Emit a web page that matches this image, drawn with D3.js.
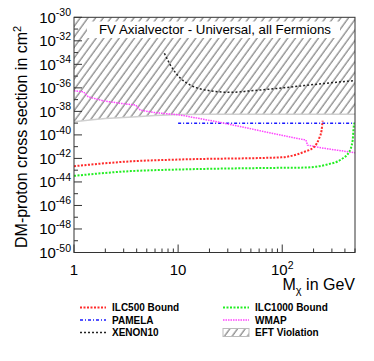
<!DOCTYPE html>
<html><head><meta charset="utf-8">
<script src="https://cdn.jsdelivr.net/npm/d3@7"></script>
<style>
body{margin:0;background:#fff}
svg{display:block}
text{font-family:"Liberation Sans",Arial,Helvetica,sans-serif;fill:#000}
</style>
</head><body>
<svg id="c" width="374" height="361"></svg>
<script>
// ---- data (mass in GeV, log10 of cross section in cm^2) ----
const massDomain = [1, 500];
const expDomain = [-50, -30];
const yLabelExps = [-30,-32,-34,-36,-38,-40,-42,-44,-46,-48,-50];
const xLabelTicks = [1, 10, 100];
const eftBoundary = [[1,-38.88],[1.5,-38.72],[2,-38.6],[3,-38.52],[4,-38.46],[6,-38.36],[10,-38.27],[20,-38.25],[500,-38.25]];
const ilc500 = [[1,-42.66],[3.5,-42.25],[10.5,-42.09],[97,-41.91],[120,-41.80],[163,-41.44],[203,-41.01],[226,-40.30],[239,-39.59],[244,-38.80]];
const ilc1000 = [[1,-43.48],[3.5,-43.08],[10.5,-42.94],[97,-42.80],[163,-42.78],[271,-42.51],[367,-42.09],[440,-41.44],[475,-40.44],[486,-39.31],[494,-38.97]];
const pamela = [[10,-39],[500,-39]];
const wmap = [[1,-36.25],[1.23,-36.33],[1.37,-36.76],[1.9,-37.1],[2.8,-37.32],[3.9,-37.46],[4.33,-37.89],[5.8,-38.09],[10.5,-38.31],[25.6,-38.94],[97,-40.02],[169,-40.44],[175,-40.87],[235,-41.10],[500,-41.52]];
const xenon10 = [[7.38,-33.06],[8.43,-34.06],[10.5,-35.17],[13.1,-35.76],[20.5,-36.25],[31.9,-36.38],[49.8,-36.25],[104,-35.99],[220,-35.68],[500,-35.38]];
const titleText = "FV Axialvector - Universal, all Fermions";
const legendLabels = ["ILC500 Bound","ILC1000 Bound","PAMELA","WMAP","XENON10","EFT Violation"];

// ---- drawing ----
const svg = d3.select("#c");
const L = 74, R = 355, T = 17.3, B = 252.5;
const x = d3.scaleLog().domain(massDomain).range([L, R]);
const y = d3.scaleLog().domain(expDomain.map(e => Math.pow(10, e))).range([B, T]);
const py = v => y(Math.pow(10, v));
const line = d3.line().x(d => x(d[0])).y(d => py(d[1]));

const defs = svg.append("defs");
const pat = defs.append("pattern").attr("id","hatch").attr("patternUnits","userSpaceOnUse")
  .attr("width",6.2).attr("height",10).attr("patternTransform","rotate(36)");
pat.append("line").attr("x1",1).attr("x2",1).attr("y1",0).attr("y2",10)
  .attr("stroke","#555").attr("stroke-width",0.9);
defs.append("clipPath").attr("id","plotclip").append("rect")
  .attr("x",L).attr("y",T).attr("width",R-L).attr("height",B-T);

const g = svg.append("g").attr("clip-path","url(#plotclip)");

// EFT hatched region
const eftArea = d3.area().x(d => x(d[0])).y0(y(Math.pow(10, expDomain[1]))).y1(d => py(d[1]));
g.append("path").datum(eftBoundary).attr("d", eftArea).attr("fill","url(#hatch)");
g.append("path").datum(eftBoundary).attr("d", line).attr("fill","none")
  .attr("stroke","#cfcfcf").attr("stroke-width",1.5);

// title box
svg.append("rect").attr("x",87).attr("y",21.5).attr("width",253).attr("height",16.5).attr("fill","#fff");
svg.append("text").attr("x",99).attr("y",33.5).attr("font-size",13.3).text(titleText);

const styles = {
  ilc500: {c:"#ff2a2a", w:2, d:"2,1.5"},
  ilc1000:{c:"#22ee22", w:2, d:"2,1.5"},
  pamela: {c:"#1a1aff", w:1.5, d:"3,2,1,2"},
  wmap:   {c:"#ff44ff", w:1.5, d:"1.5,1"},
  xenon:  {c:"#222", w:1.5, d:"2,2"}
};
function drawSeries(data, s, curve){
  g.append("path").datum(data).attr("d", line.curve(curve)(data)).attr("fill","none")
    .attr("stroke", s.c).attr("stroke-width", s.w).attr("stroke-dasharray", s.d);
}
drawSeries(xenon10, styles.xenon, d3.curveMonotoneX);
drawSeries(pamela, styles.pamela, d3.curveLinear);
drawSeries(wmap, styles.wmap, d3.curveLinear);
drawSeries(ilc500, styles.ilc500, d3.curveMonotoneX);
drawSeries(ilc1000, styles.ilc1000, d3.curveMonotoneX);

// frame
svg.append("rect").attr("x",L).attr("y",T).attr("width",R-L).attr("height",B-T)
  .attr("fill","none").attr("stroke","#333").attr("stroke-width",1);

// y ticks (every decade)
const yt = svg.append("g").attr("stroke","#333").attr("stroke-width",1);
for (let e = expDomain[0]; e <= expDomain[1]; e++) {
  const len = (yLabelExps.includes(e)) ? 8 : 4;
  yt.append("line").attr("x1",L).attr("x2",L+len).attr("y1",py(e)).attr("y2",py(e));
}
// x ticks
const xt = svg.append("g").attr("stroke","#333").attr("stroke-width",1);
const minor = [];
for (let d = 1; d <= 100; d *= 10) for (let k = 1; k <= 9; k++) { const v = d*k; if (v <= massDomain[1]) minor.push(v); }
minor.forEach(v => {
  const len = xLabelTicks.includes(v) ? 8 : 4;
  xt.append("line").attr("x1",x(v)).attr("x2",x(v)).attr("y1",B).attr("y2",B-len);
});

// y labels
yLabelExps.forEach(e => {
  const t = svg.append("text").attr("x",71).attr("y",py(e)+5.5).attr("text-anchor","end").attr("font-size",15);
  t.append("tspan").text("10");
  t.append("tspan").attr("dy",-6.5).attr("font-size",10.5).text(String(e));
});
// x labels
xLabelTicks.forEach(v => {
  const t = svg.append("text").attr("x",x(v)).attr("y",275).attr("text-anchor","middle").attr("font-size",15);
  const p = Math.round(Math.log10(v));
  if (p === 0) t.text("1");
  else if (p === 1) t.text("10");
  else { t.append("tspan").text("10"); t.append("tspan").attr("dy",-6.5).attr("font-size",10.5).text(String(p)); }
});

// axis titles
const xtitle = svg.append("text").attr("x",R).attr("y",290).attr("text-anchor","end").attr("font-size",16);
xtitle.append("tspan").text("M");
xtitle.append("tspan").attr("dy",4).attr("font-size",11).text("χ");
xtitle.append("tspan").attr("dy",-4).text(" in GeV");

const ytitle = svg.append("text").attr("transform","translate(27,248) rotate(-90)").attr("font-size",16);
ytitle.append("tspan").text("DM-proton cross section in cm");
ytitle.append("tspan").attr("dy",-6.5).attr("font-size",11).text("2");

// legend
const legendStyles = [styles.ilc500, styles.ilc1000, styles.pamela, styles.wmap, styles.xenon, null];
const lg = svg.append("g");
legendLabels.forEach((lab, i) => {
  const col = i % 2, row = Math.floor(i / 2);
  const lx = col === 0 ? 80 : 223;
  const ly = 307.5 + row * 12.5;
  const s = legendStyles[i];
  if (s) {
    lg.append("line").attr("x1",lx).attr("x2",lx+26).attr("y1",ly).attr("y2",ly)
      .attr("stroke",s.c).attr("stroke-width",s.w).attr("stroke-dasharray",s.d);
  } else {
    lg.append("rect").attr("x",lx).attr("y",ly-4).attr("width",26).attr("height",8)
      .attr("fill","url(#hatch)").attr("stroke","#bbb").attr("stroke-width",1);
  }
  lg.append("text").attr("x",lx+32).attr("y",ly+3.6).attr("font-size",10).attr("font-weight","bold").text(lab);
});
</script>
</body></html>
